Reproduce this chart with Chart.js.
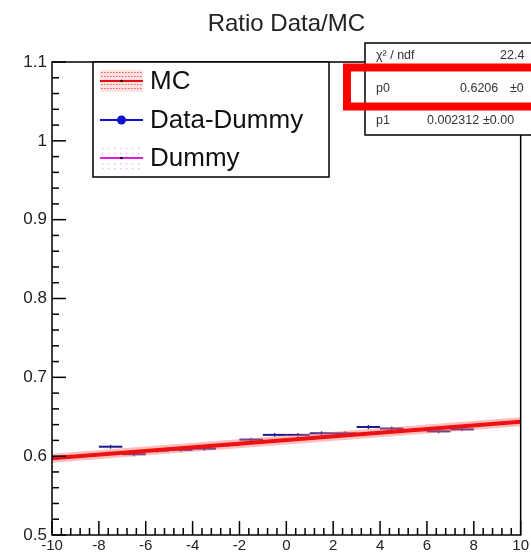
<!DOCTYPE html>
<html>
<head>
<meta charset="utf-8">
<script src="https://cdn.jsdelivr.net/npm/chart.js@4.4.1/dist/chart.umd.min.js"></script>
<style>
  html, body { margin: 0; padding: 0; background: #fff; }
  #wrap { width: 531px; height: 552px; position: relative; }
</style>
</head>
<body>
<div id="wrap"><canvas id="c" width="531" height="552"></canvas></div>
<script>
// Bin centres and measured Data-Dummy ratio per bin
const binCenters = [-7.5, -6.5, -5.5, -4.5, -3.5, -2.5, -1.5, -0.5, 0.5, 1.5, 2.5, 3.5, 4.5, 5.5, 6.5, 7.5];
const binHalfWidth = [0.5, 0.5, 0.5, 0.5, 0.5, 0.5, 0.5, 0.5, 0.5, 0.5, 0.5, 0.5, 0.5, 0.5, 0.5, 0.5];
const ratioData = [0.612, 0.6025, 0.607, 0.608, 0.6095, 0.614, 0.621, 0.627, 0.627, 0.629, 0.629, 0.637, 0.635, 0.633, 0.6315, 0.634];
const ratioErr = [0.0025, 0.0025, 0.0025, 0.0025, 0.0025, 0.0025, 0.0025, 0.0025, 0.0025, 0.0025, 0.0025, 0.0025, 0.0025, 0.0025, 0.0025, 0.0025];

// Linear fit pol1: p0 + p1*x
const fitP0 = 0.6206;
const fitP1 = 0.002312;
const fitRange = [-10, 10];

// Axis ranges and tick labels
const xRange = [-10, 10];
const yRange = [0.5, 1.1];
const xTickValues = [-10, -8, -6, -4, -2, 0, 2, 4, 6, 8, 10];
const xTickLabels = ['-10', '-8', '-6', '-4', '-2', '0', '2', '4', '6', '8', '10'];
const yTickValues = [0.5, 0.6, 0.7, 0.8, 0.9, 1.0, 1.1];
const yTickLabels = ['0.5', '0.6', '0.7', '0.8', '0.9', '1', '1.1'];

// Legend and fit statistics text
const legendNames = ['MC', 'Data-Dummy', 'Dummy'];
const statNames = ['\u03c7\u00b2 / ndf', 'p0', 'p1'];
const statValues = ['22.4', '0.6206', '0.002312'];
const statErrors = ['', '\u00b10', '\u00b10.00'];

const FONT = '"Liberation Sans", Arial, Helvetica, sans-serif';

const fitPoints = fitRange.map(x => ({ x: x, y: fitP0 + fitP1 * x }));
const dataPoints = binCenters.map((x, i) => ({ x: x, y: ratioData[i] }));

// ROOT-style frame, inward ticks, error bars, legend and stat box
const rootDecor = {
  id: 'rootDecor',
  beforeDatasetsDraw(chart) {
    const ctx = chart.ctx, xs = chart.scales.x, ys = chart.scales.y;
    // error bars for Data-Dummy
    ctx.save();
    ctx.strokeStyle = '#1a1a8c';
    binCenters.forEach((x, i) => {
      const y = ys.getPixelForValue(ratioData[i]);
      const x0 = xs.getPixelForValue(x - binHalfWidth[i]);
      const x1 = xs.getPixelForValue(x + binHalfWidth[i]);
      ctx.lineWidth = 2;
      ctx.beginPath(); ctx.moveTo(x0, y); ctx.lineTo(x1, y); ctx.stroke();
      const xc = xs.getPixelForValue(x);
      ctx.lineWidth = 1.2;
      ctx.beginPath();
      ctx.moveTo(xc, ys.getPixelForValue(ratioData[i] - ratioErr[i]));
      ctx.lineTo(xc, ys.getPixelForValue(ratioData[i] + ratioErr[i]));
      ctx.stroke();
    });
    ctx.restore();
  },
  afterDraw(chart) {
    const ctx = chart.ctx, a = chart.chartArea, xs = chart.scales.x, ys = chart.scales.y;
    ctx.save();
    // frame
    ctx.strokeStyle = '#000';
    ctx.lineWidth = 1.5;
    ctx.strokeRect(a.left, a.top, a.right - a.left, a.bottom - a.top);
    // x ticks (major every 2, minor every 0.4)
    for (let k = 0; k <= 50; k++) {
      const v = xRange[0] + k * 0.4;
      const px = xs.getPixelForValue(v);
      const len = (k % 5 === 0) ? 14 : 7;
      ctx.beginPath(); ctx.moveTo(px, a.bottom); ctx.lineTo(px, a.bottom - len); ctx.stroke();
    }
    // y ticks (major every 0.1, minor every 0.02)
    for (let k = 0; k <= 30; k++) {
      const v = yRange[0] + k * 0.02;
      const py = ys.getPixelForValue(v);
      const len = (k % 5 === 0) ? 14 : 7;
      ctx.beginPath(); ctx.moveTo(a.left, py); ctx.lineTo(a.left + len, py); ctx.stroke();
    }

    // legend box
    const lx = 93, ly = 62, lw = 236, lh = 115;
    ctx.fillStyle = '#fff';
    ctx.fillRect(lx, ly, lw, lh);
    ctx.strokeStyle = '#000';
    ctx.lineWidth = 1.5;
    ctx.strokeRect(lx, ly, lw, lh);
    const rowY = [81, 120, 158];
    const sx0 = 100, sx1 = 143;
    // MC: red line with pink hatched band
    ctx.fillStyle = 'rgba(255,170,170,0.35)';
    ctx.fillRect(sx0, rowY[0] - 11, sx1 - sx0, 22);
    ctx.fillStyle = 'rgba(230,60,60,0.8)';
    for (let yy = rowY[0] - 9; yy <= rowY[0] + 9; yy += 4) {
      if (Math.abs(yy - rowY[0]) < 2) continue;
      for (let xx = sx0 + 1; xx < sx1; xx += 3) ctx.fillRect(xx, yy, 1.5, 1);
    }
    ctx.strokeStyle = '#e01010'; ctx.lineWidth = 2;
    ctx.beginPath(); ctx.moveTo(sx0, rowY[0]); ctx.lineTo(sx1, rowY[0]); ctx.stroke();
    ctx.fillStyle = '#000';
    ctx.beginPath(); ctx.arc((sx0 + sx1) / 2, rowY[0], 1.3, 0, Math.PI * 2); ctx.fill();
    // Data-Dummy: blue line with marker
    ctx.strokeStyle = '#1010d0'; ctx.lineWidth = 2;
    ctx.beginPath(); ctx.moveTo(sx0, rowY[1]); ctx.lineTo(sx1, rowY[1]); ctx.stroke();
    ctx.fillStyle = '#1010d0';
    ctx.beginPath(); ctx.arc((sx0 + sx1) / 2, rowY[1], 4.5, 0, Math.PI * 2); ctx.fill();
    // Dummy: magenta line with dotted band
    ctx.fillStyle = 'rgba(240,120,240,0.7)';
    for (let yy = rowY[2] - 10; yy <= rowY[2] + 10; yy += 5) {
      if (Math.abs(yy - rowY[2]) < 2) continue;
      for (let xx = sx0 + 2; xx < sx1; xx += 6) ctx.fillRect(xx, yy, 1.2, 1.2);
    }
    ctx.strokeStyle = '#e020e0'; ctx.lineWidth = 2;
    ctx.beginPath(); ctx.moveTo(sx0, rowY[2]); ctx.lineTo(sx1, rowY[2]); ctx.stroke();
    ctx.fillStyle = '#000';
    ctx.beginPath(); ctx.arc((sx0 + sx1) / 2, rowY[2], 1.3, 0, Math.PI * 2); ctx.fill();
    // legend text
    ctx.fillStyle = '#111';
    ctx.font = '26px ' + FONT;
    ctx.textBaseline = 'middle';
    ctx.textAlign = 'left';
    legendNames.forEach((n, i) => ctx.fillText(n, 150, rowY[i] + 1));

    // fit statistics box
    const bx = 365, by = 43, bw = 200, bh = 92;
    ctx.fillStyle = '#fff';
    ctx.fillRect(bx, by, bw, bh);
    ctx.strokeStyle = '#000';
    ctx.lineWidth = 1.5;
    ctx.strokeRect(bx, by, bw, bh);
    ctx.font = '12.5px ' + FONT;
    ctx.fillStyle = '#333';
    const sRowY = [56, 89, 121];
    const sValX = [500, 460, 427];
    const sErrX = [0, 510, 483];
    statNames.forEach((n, i) => {
      ctx.fillText(n, 376, sRowY[i]);
      ctx.fillText(statValues[i], sValX[i], sRowY[i]);
      if (statErrors[i]) ctx.fillText(statErrors[i], sErrX[i], sRowY[i]);
    });
    // highlight around the p0 row
    ctx.strokeStyle = '#ff0000';
    ctx.lineWidth = 8;
    ctx.strokeRect(347, 67.5, 220, 39);
    ctx.restore();
  }
};

new Chart(document.getElementById('c'), {
  type: 'scatter',
  data: {
    datasets: [
      {
        label: 'MC band',
        type: 'line',
        data: fitPoints,
        borderColor: 'rgba(255,110,110,0.45)',
        borderWidth: 9,
        pointRadius: 0,
        fill: false,
        order: 2
      },
      {
        label: 'MC',
        type: 'line',
        data: fitPoints,
        borderColor: '#ee1111',
        borderWidth: 4,
        pointRadius: 0,
        fill: false,
        order: 1
      },
      {
        label: 'Data-Dummy',
        data: dataPoints,
        backgroundColor: '#1a1a8c',
        borderColor: '#1a1a8c',
        pointRadius: 0,
        order: 3
      }
    ]
  },
  options: {
    responsive: false,
    animation: false,
    layout: { padding: { top: 0, right: 10, left: 0, bottom: 0 } },
    plugins: {
      legend: { display: false },
      tooltip: { enabled: false },
      title: {
        display: true,
        text: 'Ratio Data/MC',
        fullSize: false,
        color: '#222',
        font: { family: FONT, size: 24, weight: 'normal', lineHeight: 1.2 },
        padding: { top: 10, bottom: 23.2 }
      }
    },
    scales: {
      x: {
        type: 'linear',
        min: xRange[0],
        max: xRange[1],
        grid: { display: false, drawTicks: false },
        border: { display: false },
        afterBuildTicks: s => { s.ticks = xTickValues.map(v => ({ value: v })); },
        afterFit: s => { s.height = 17; },
        ticks: {
          autoSkip: false,
          maxRotation: 0,
          padding: 2,
          color: '#222',
          font: { family: FONT, size: 15 },
          callback: (v) => xTickLabels[xTickValues.indexOf(v)]
        }
      },
      y: {
        type: 'linear',
        min: yRange[0],
        max: yRange[1],
        grid: { display: false, drawTicks: false },
        border: { display: false },
        afterBuildTicks: s => { s.ticks = yTickValues.map(v => ({ value: v })); },
        afterFit: s => { s.width = 52; },
        ticks: {
          autoSkip: false,
          padding: 5,
          color: '#222',
          font: { family: FONT, size: 17 },
          callback: (v) => yTickLabels[yTickValues.findIndex(t => Math.abs(t - v) < 1e-9)]
        }
      }
    }
  },
  plugins: [rootDecor]
});
</script>
</body>
</html>
